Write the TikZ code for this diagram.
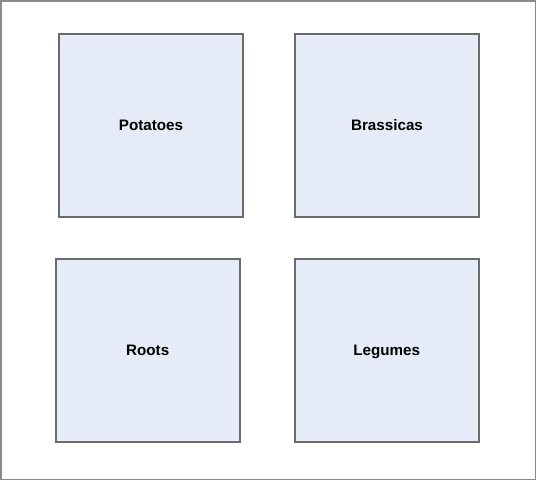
\documentclass[tikz,border=0pt]{standalone}
\usepackage{fontspec}
\setmainfont{Liberation Sans}
\definecolor{boxfill}{HTML}{E6ECF7}
\definecolor{boxline}{HTML}{6B6B6B}
\definecolor{frameline}{HTML}{8A8A8A}
\begin{document}
\begin{tikzpicture}[x=1pt,y=-1pt,
  bed/.style={draw=boxline,line width=1.2pt,fill=boxfill},
  lbl/.style={font=\fontsize{15.2}{18}\selectfont\bfseries,text=black,anchor=base,inner sep=0pt}]
\useasboundingbox (0,0) rectangle (536,480);
\draw[frameline,line width=1.5pt] (0.75,0.75) rectangle (535.25,479.25);
\draw[bed] (59,34) rectangle (243,217);
\draw[bed] (295,34) rectangle (479,217);
\draw[bed] (56,259) rectangle (240,442);
\draw[bed] (295,259) rectangle (479,442);
\node[lbl] (potatoes) at (151,130.7) {Potatoes};
\node[lbl] (brassicas) at (387,130.7) {Brassicas};
\node[lbl] (roots) at (147.7,355.7) {Roots};
\node[lbl] (legumes) at (386.7,355.7) {Legumes};
\end{tikzpicture}
\end{document}
